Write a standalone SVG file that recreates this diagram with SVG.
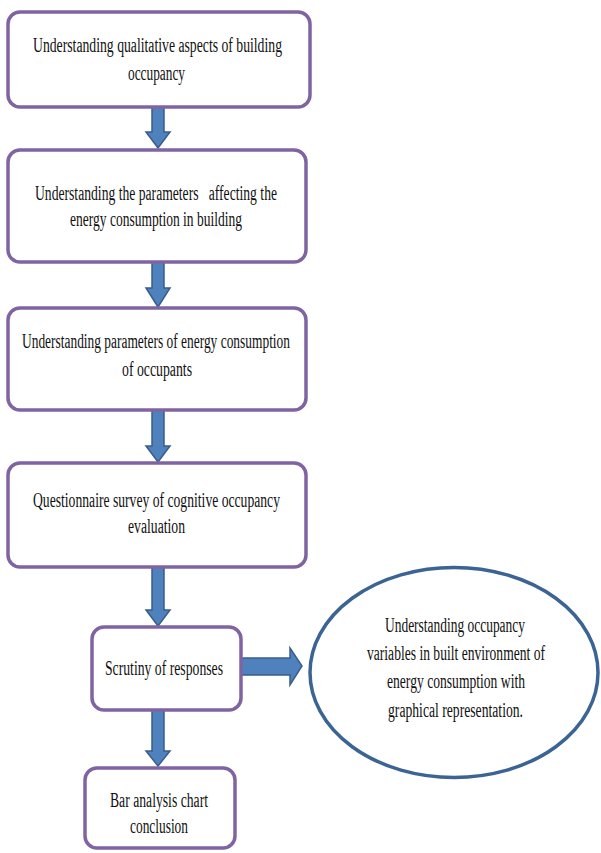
<svg xmlns="http://www.w3.org/2000/svg" width="601" height="853" viewBox="0 0 601 853">
<style>
.box{fill:#ffffff;stroke:#8064A2;stroke-width:3.5}
.ell{fill:#ffffff;stroke:#3B6494;stroke-width:3.5}
.arr{fill:#4F81BD;stroke:#385D8A;stroke-width:1.5;stroke-linejoin:miter}
.t{font-family:"Liberation Serif","Times New Roman",serif;font-size:20.5px;fill:#111111;text-anchor:middle;white-space:pre}
</style>
<rect width="601" height="853" fill="#ffffff"/>
<g id="connectors">
<polygon class="arr" points="152,107 164,107 164,132 170,132 158,148 146,132 152,132"/>
<polygon class="arr" points="152,262 164,262 164,288 170,288 158,307 146,288 152,288"/>
<polygon class="arr" points="152,410 164,410 164,446 170,446 158,462 146,446 152,446"/>
<polygon class="arr" points="152,567 164,567 164,610 170,610 158,626 146,610 152,610"/>
<polygon class="arr" points="152,710 164,710 164,751 170,751 158,766 146,751 152,751"/>
<polygon class="arr" points="241,658 290,658 290,648 302,666 290,685 290,675 241,675"/>
</g>
<g id="n1">
<rect class="box" x="8" y="12" width="302" height="95" rx="12"/>
<text class="t" x="157.5" y="52" textLength="249" lengthAdjust="spacingAndGlyphs">Understanding qualitative aspects of building</text>
<text class="t" x="156.5" y="80" textLength="57" lengthAdjust="spacingAndGlyphs">occupancy</text>
</g>
<g id="n2">
<rect class="box" x="8" y="150" width="298" height="112" rx="12"/>
<text class="t" x="156" y="200" textLength="242" lengthAdjust="spacingAndGlyphs">Understanding the parameters   affecting the</text>
<text class="t" x="156" y="226" textLength="172" lengthAdjust="spacingAndGlyphs">energy consumption in building</text>
</g>
<g id="n3">
<rect class="box" x="8" y="308" width="298" height="102" rx="12"/>
<text class="t" x="156" y="348" textLength="268" lengthAdjust="spacingAndGlyphs">Understanding parameters of energy consumption</text>
<text class="t" x="157" y="376" textLength="70" lengthAdjust="spacingAndGlyphs">of occupants</text>
</g>
<g id="n4">
<rect class="box" x="8" y="463" width="298" height="104" rx="12"/>
<text class="t" x="156.5" y="507" textLength="247" lengthAdjust="spacingAndGlyphs">Questionnaire survey of cognitive occupancy</text>
<text class="t" x="156.5" y="533" textLength="57" lengthAdjust="spacingAndGlyphs">evaluation</text>
</g>
<g id="n5">
<rect class="box" x="92" y="627" width="149" height="83" rx="12"/>
<text class="t" x="164" y="675" textLength="118" lengthAdjust="spacingAndGlyphs">Scrutiny of responses</text>
</g>
<g id="n6">
<rect class="box" x="85" y="768" width="150" height="80" rx="12"/>
<text class="t" x="159" y="807" textLength="98" lengthAdjust="spacingAndGlyphs">Bar analysis chart</text>
<text class="t" x="159" y="833" textLength="58" lengthAdjust="spacingAndGlyphs">conclusion</text>
</g>
<g id="n7">
<ellipse class="ell" cx="454" cy="672.5" rx="144" ry="105"/>
<text class="t" x="455" y="632" textLength="140" lengthAdjust="spacingAndGlyphs">Understanding occupancy</text>
<text class="t" x="456" y="660" textLength="178" lengthAdjust="spacingAndGlyphs">variables in built environment of</text>
<text class="t" x="456" y="688" textLength="138" lengthAdjust="spacingAndGlyphs">energy consumption with</text>
<text class="t" x="455.5" y="717" textLength="135" lengthAdjust="spacingAndGlyphs">graphical representation.</text>
</g>
</svg>
